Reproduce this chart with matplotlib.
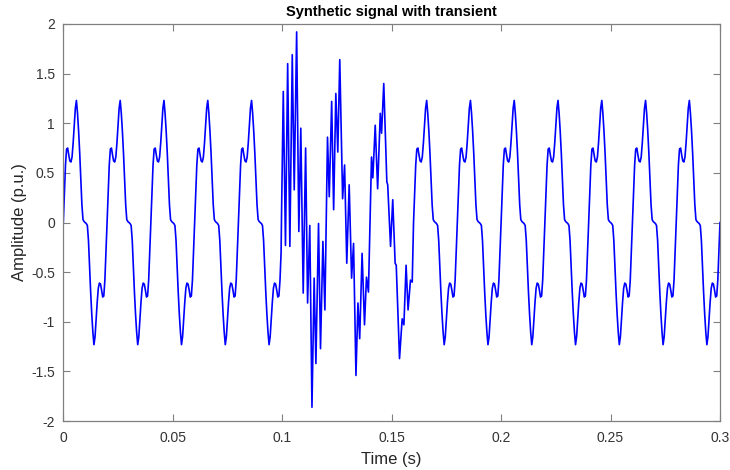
import numpy as np
import matplotlib
matplotlib.use('Agg')
import matplotlib.pyplot as plt

plt.rcParams['font.family'] = ['Liberation Sans', 'DejaVu Sans']

# one cycle of the steady-state waveform (50 Hz), sampled every 0.5 ms
step = 0.0005
n_cycles = 15
period_vals = [0.00, 0.30, 0.58, 0.74, 0.75, 0.68, 0.62, 0.61, 0.66, 0.80,
               0.98, 1.15, 1.23, 1.10, 0.92, 0.70, 0.45, 0.18, 0.03, 0.01,
               0.00, -0.01, -0.03, -0.18, -0.45, -0.70, -0.92, -1.10, -1.23, -1.15,
               -0.98, -0.80, -0.66, -0.61, -0.62, -0.68, -0.75, -0.74, -0.58, -0.30]

# transient burst (peaks and troughs)
trans_t = [0.0997, 0.1005, 0.1015, 0.1025, 0.1035, 0.1046, 0.1055, 0.1066, 0.1076, 0.1085,
           0.1096, 0.1107, 0.1116, 0.1126, 0.1136, 0.1146, 0.1154, 0.1166, 0.1175, 0.1186,
           0.1195, 0.1207, 0.1215, 0.1226, 0.1235, 0.1245, 0.1254, 0.1263, 0.1276, 0.1285,
           0.1295, 0.1306, 0.1317, 0.1326, 0.1337, 0.1346, 0.1354, 0.1365, 0.1376, 0.1385,
           0.1394, 0.1408, 0.1414, 0.1425, 0.1436, 0.1448, 0.1454, 0.1464, 0.1478, 0.1482,
           0.1495, 0.1505, 0.1516, 0.1521, 0.1536, 0.1548, 0.1556, 0.1566, 0.1575, 0.1586,
           0.1594]
trans_v = [0.08, 1.32, -0.23, 1.60, -0.24, 1.69, 0.33, 1.92, -0.09, 0.95,
           -0.71, 0.75, -0.81, -0.03, -1.86, -0.56, -1.42, -0.01, -1.27, -0.19,
           -0.88, 0.86, 0.26, 1.22, 0.13, 1.30, 0.71, 1.64, 0.24, 0.58,
           -0.41, 0.38, -0.56, -0.21, -1.54, -0.81, -1.17, -0.31, -1.03, -0.55,
           -0.70, 0.66, 0.45, 0.98, 0.34, 1.10, 0.90, 1.40, 0.41, 0.38,
           -0.24, 0.23, -0.41, -0.43, -1.37, -0.97, -1.03, -0.43, -0.88, -0.58,
           -0.60]

base_v = np.append(np.tile(period_vals, n_cycles), 0.0)
base_t = np.arange(len(base_v)) * step

before = base_t < trans_t[0] - 1e-9
after = base_t > trans_t[-1] + 0.0003
t = np.concatenate([base_t[before], trans_t, base_t[after]])
y = np.concatenate([base_v[before], trans_v, base_v[after]])

fig = plt.figure(figsize=(7.3, 4.7), dpi=100)
ax = fig.add_axes([0.0867, 0.104, 0.8996, 0.845])
ax.plot(t, y, color='#0000ff', lw=1.2)

ax.set_xlim(0, 0.3)
ax.set_ylim(-2, 2)
ax.set_xticks([0, 0.05, 0.1, 0.15, 0.2, 0.25, 0.3])
ax.set_xticklabels(['0', '0.05', '0.1', '0.15', '0.2', '0.25', '0.3'])
ax.set_yticks([-2, -1.5, -1, -0.5, 0, 0.5, 1, 1.5, 2])
ax.set_yticklabels(['-2', '-1.5', '-1', '-0.5', '0', '0.5', '1', '1.5', '2'])
ax.tick_params(direction='in', length=5, width=0.8, colors='#808080',
               labelcolor='#333333', labelsize=10, top=True, right=True)
ax.tick_params(axis='x', pad=7)
ax.tick_params(axis='y', pad=6)
for s in ax.spines.values():
    s.set_color('#808080')
    s.set_linewidth(0.9)

ax.set_title('Synthetic signal with transient', fontsize=10.5, fontweight='bold', pad=6)
ax.set_xlabel('Time (s)', fontsize=12, color='#262626', labelpad=5)
ax.set_ylabel('Amplitude (p.u.)', fontsize=12, color='#262626', labelpad=3)

fig.savefig('out.png', dpi=100)
